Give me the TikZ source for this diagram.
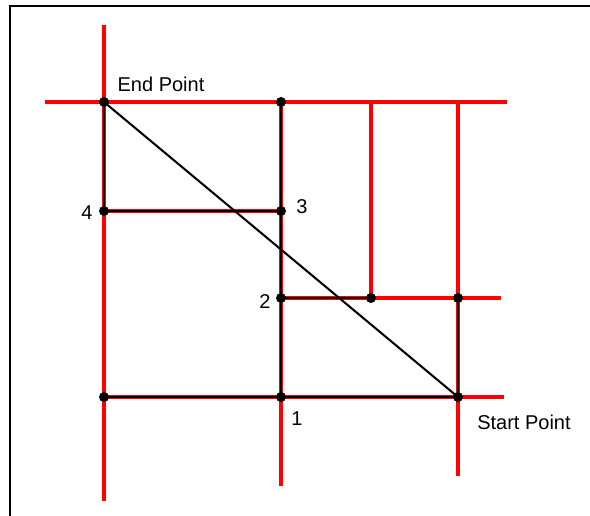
\documentclass[tikz,border=0pt]{standalone}
\usepackage{fontspec}
\setmainfont{Liberation Sans}
\usetikzlibrary{positioning}

\begin{document}
\begin{tikzpicture}[x=1pt, y=-1pt,
    grid/.style={draw=red, line width=3.4pt},
    route/.style={draw=black, line width=2.1pt},
    dot/.style={circle, fill=black, inner sep=0pt, minimum size=10pt},
    lbl/.style={inner sep=0pt, font=\fontsize{20}{23}\selectfont},
  ]
  \useasboundingbox (0,0) rectangle (590,516);
  % frame of the screenshot
  \coordinate (fb) at (10,516);
  \coordinate (fc) at (10,6);
  \coordinate (fr) at (590,6);
  \draw[line width=2.6pt] (fb) -- (fc) -- (fr);

  % grid points
  \coordinate (ep) at (104,102);
  \coordinate (t3) at (281,102);
  \coordinate (p4) at (104,211);
  \coordinate (p3) at (281,211);
  \coordinate (p2) at (281,298);
  \coordinate (m2) at (371,298);
  \coordinate (r2) at (458,298);
  \coordinate (b4) at (104,397);
  \coordinate (p1) at (281,397);
  \coordinate (sp) at (458,397);

  % free ends of the red lines
  \coordinate (aT) at (104,25);
  \coordinate (aB) at (104,501);
  \coordinate (bB) at (281,486);
  \coordinate (cT) at (371,102);
  \coordinate (dT) at (458,102);
  \coordinate (dB) at (458,476);
  \coordinate (hL) at (45,102);
  \coordinate (hR) at (507,102);
  \coordinate (gR) at (501,298);
  \coordinate (kR) at (504,397);

  % red lines
  \draw[grid] (aT) -- (aB);
  \draw[grid] (t3) -- (bB);
  \draw[grid] (cT) -- (m2);
  \draw[grid] (dT) -- (dB);
  \draw[grid] (hL) -- (hR);
  \draw[grid] (p4) -- (p3);
  \draw[grid] (p2) -- (gR);
  \draw[grid] (b4) -- (kR);

  % black route
  \draw[route] (ep) -- (sp);
  \draw[route] (ep) -- (p4) -- (p3);
  \draw[route] (t3) -- (p1);
  \draw[route] (p2) -- (m2);
  \draw[route] (r2) -- (sp);
  \draw[route] (b4) -- (sp);

  % dots
  \foreach \p in {ep,t3,p4,p3,p2,m2,r2,b4,p1,sp}
    \node[dot] (\p-dot) at (\p) {};

  % labels
  \node[lbl] (epl) at (161,84) {End Point};
  \node[lbl] (spl) at (524,422) {Start Point};
  \node[lbl] (l4) at (87,213) {4};
  \node[lbl] (l3) at (302,207) {3};
  \node[lbl] (l2) at (265,302) {2};
  \node[lbl] (l1) at (297,419) {1};
\end{tikzpicture}
\end{document}
